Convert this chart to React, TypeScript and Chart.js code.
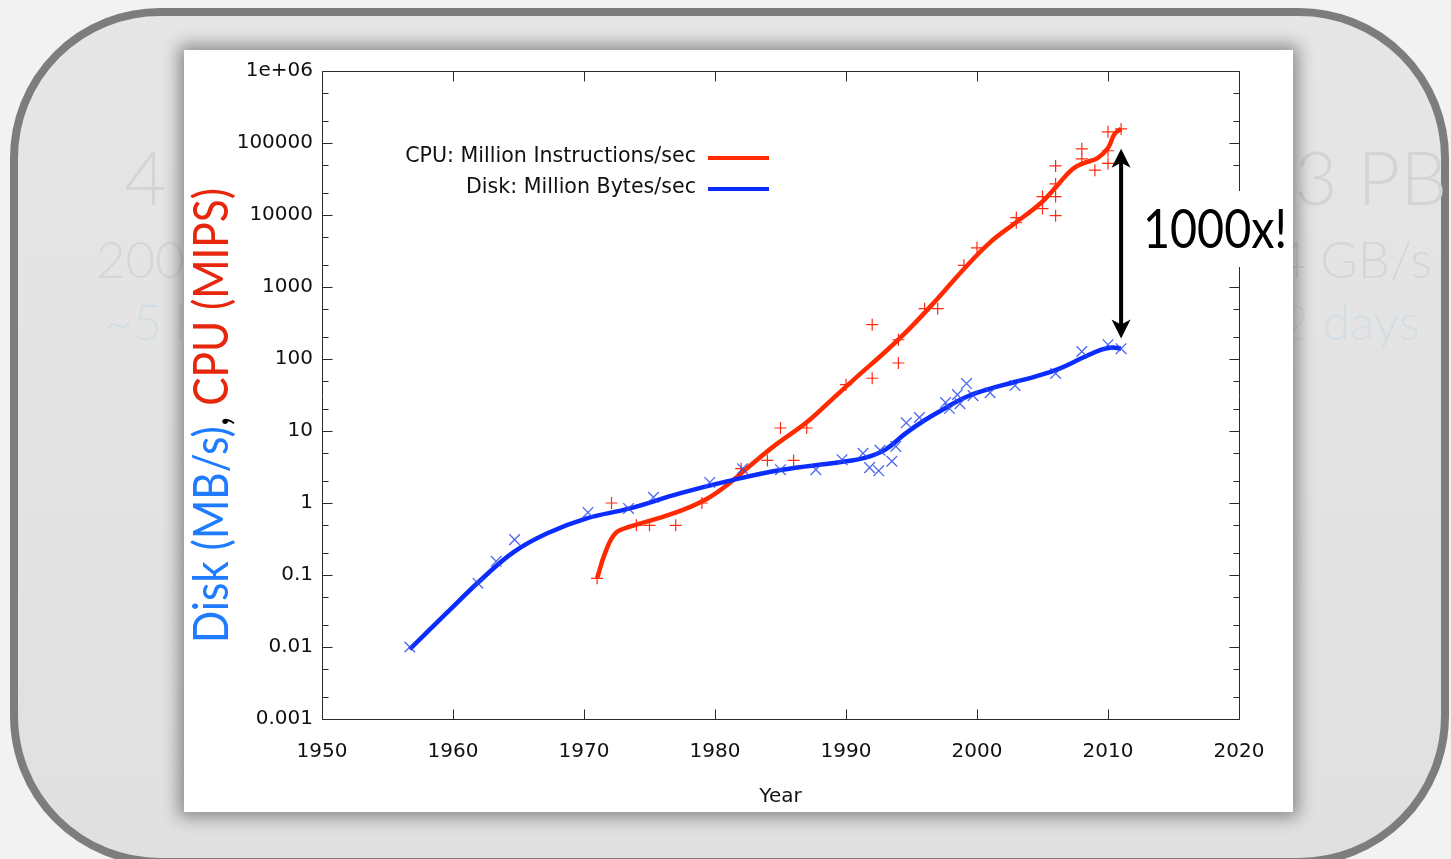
import React, { useEffect, useRef } from "react";
import { Chart, registerables } from "chart.js";

Chart.register(...registerables);

// ---------------- data ----------------
const cpuYears = [1971.0, 1972.1, 1974.0, 1975.0, 1977.0, 1979.0, 1982.0, 1984.0, 1985.0, 1986.0, 1987.0, 1990.0, 1992.0, 1992.0, 1994.0, 1994.0, 1996.0, 1997.0, 1999.0, 2000.0, 2003.0, 2003.0, 2005.0, 2005.0, 2006.0, 2006.0, 2006.0, 2006.0, 2008.0, 2008.0, 2009.0, 2010.0, 2010.0, 2010.0, 2011.0];
const cpuMips = [0.09, 1.0, 0.49, 0.49, 0.49, 1.0, 3.0, 3.9, 11, 3.9, 11, 44, 300, 54, 185, 88, 500, 500, 2000, 3500, 7800, 9200, 18000, 12300, 48000, 27000, 18000, 9800, 83000, 60000, 42000, 143000, 78000, 52000, 157000];

const diskYears = [1956.7, 1961.9, 1963.3, 1964.7, 1970.3, 1973.4, 1975.3, 1979.6, 1982.1, 1985.0, 1987.7, 1989.7, 1991.3, 1991.8, 1992.5, 1992.6, 1993.5, 1993.8, 1994.6, 1995.6, 1997.6, 1997.9, 1998.5, 1998.7, 1999.2, 1999.7, 2001.0, 2002.9, 2006.0, 2008.0, 2010.0, 2011.0];
const diskMBps = [0.01, 0.077, 0.155, 0.31, 0.74, 0.84, 1.2, 1.93, 3.0, 2.9, 2.9, 4.0, 4.9, 3.1, 2.8, 5.4, 3.8, 6.1, 13, 15.4, 24.8, 20.5, 32, 24, 45.6, 31, 34, 43, 63, 127, 158, 139];

// smoothed fit curves as drawn in the picture
const cpuFitYears = [1971.0, 1971.6, 1972.4, 1973.5, 1975.5, 1977.5, 1979.5, 1981.0, 1982.4, 1984.5, 1987.0, 1989.0, 1991.0, 1993.0, 1995.0, 1997.0, 1999.0, 2001.0, 2003.0, 2004.9, 2006.1, 2007.3, 2008.2, 2009.2, 2010.0, 2010.5, 2011.0];
const cpuFitValues = [0.09, 0.2, 0.38, 0.468, 0.603, 0.794, 1.175, 1.82, 2.99, 6.17, 13.2, 28.2, 60.3, 126, 282, 692, 1778, 4169, 7943, 14791, 25400, 43650, 52970, 61660, 85110, 133660, 157000];

const diskFitYears = [1956.7, 1959.5, 1962.1, 1964.6, 1967.2, 1970.2, 1973.5, 1977.3, 1980.9, 1985.0, 1989.5, 1991.5, 1993.0, 1994.5, 1996.0, 1997.5, 1999.0, 2000.5, 2002.8, 2004.5, 2006.2, 2008.1, 2009.5, 2010.3, 2011.0];
const diskFitValues = [0.0093, 0.0295, 0.0845, 0.2065, 0.38, 0.611, 0.841, 1.358, 2.0, 2.88, 3.69, 4.27, 5.5, 9.12, 14.1, 20.4, 28.8, 36.3, 47.5, 57.5, 72.4, 104.7, 134.9, 144.5, 139.3];

const xTickValues = [1950, 1960, 1970, 1980, 1990, 2000, 2010, 2020];
const xTickLabels = ["1950", "1960", "1970", "1980", "1990", "2000", "2010", "2020"];
const yTickValues = [0.001, 0.01, 0.1, 1, 10, 100, 1000, 10000, 100000, 1000000];
const yTickLabels = ["0.001", "0.01", "0.1", "1", "10", "100", "1000", "10000", "100000", "1e+06"];
const yMinorFactors = [2, 5];

const legendLabels = ["CPU: Million Instructions/sec", "Disk: Million Bytes/sec"];
const xTitle = "Year";
const yTitleParts = ["Disk (MB/s)", ", ", "CPU (MIPS)"];
const gapLabel = "1000x!";
const arrowYear = 2011;
const arrowTopValue = 83000;
const arrowBottomValue = 192;

const leftFaint = ["4 TB", "200 MB/s", "~5 hours"];
const rightFaint = ["3 PB", "4 GB/s", "2 days"];

// ---------------- styles ----------------
const RED_LINE = "#ff2a00";
const RED_MARK = "#ff2a10";
const BLUE_LINE = "#0b2cff";
const BLUE_MARK = "rgba(45,75,240,0.85)";
const BLUE_TEXT = "#1f7bff";
const RED_TEXT = "#e8260c";
const TICK_FONT = "DejaVu Sans";

const CARD = { left: 184, top: 50, width: 1109, height: 762 };

const framePlugin = {
  id: "frame",
  beforeDatasetsDraw(chart: any) {
    const { ctx, chartArea, scales } = chart;
    const L = Math.round(chartArea.left) + 0.5;
    const R = Math.round(chartArea.right) + 0.5;
    const T = Math.round(chartArea.top) + 0.5;
    const B = Math.round(chartArea.bottom) + 0.5;
    ctx.save();
    ctx.strokeStyle = "#2a2a2a";
    ctx.lineWidth = 1;
    ctx.beginPath();
    ctx.rect(L, T, R - L, B - T);
    ctx.stroke();
    ctx.beginPath();
    xTickValues.forEach((v) => {
      const px = Math.round(scales.x.getPixelForValue(v)) + 0.5;
      ctx.moveTo(px, B);
      ctx.lineTo(px, B - 10);
      ctx.moveTo(px, T);
      ctx.lineTo(px, T + 10);
    });
    yTickValues.forEach((v, i) => {
      const py = Math.round(scales.y.getPixelForValue(v)) + 0.5;
      ctx.moveTo(L, py);
      ctx.lineTo(L + 10, py);
      ctx.moveTo(R, py);
      ctx.lineTo(R - 10, py);
      if (i < yTickValues.length - 1) {
        yMinorFactors.forEach((f) => {
          const my = Math.round(scales.y.getPixelForValue(v * f)) + 0.5;
          ctx.moveTo(L, my);
          ctx.lineTo(L + 6, my);
          ctx.moveTo(R, my);
          ctx.lineTo(R - 6, my);
        });
      }
    });
    ctx.stroke();
    ctx.restore();
  },
};

const overlayPlugin = {
  id: "overlay",
  afterDraw(chart: any) {
    const { ctx, scales, chartArea } = chart;
    ctx.save();

    // legend
    ctx.font = `20.6px "${TICK_FONT}"`;
    ctx.textAlign = "right";
    ctx.textBaseline = "middle";
    ctx.fillStyle = "#111";
    const legendColors = [RED_LINE, BLUE_LINE];
    const legendY = [107, 138];
    legendLabels.forEach((t, i) => {
      ctx.fillText(t, 512, legendY[i]);
      ctx.strokeStyle = legendColors[i];
      ctx.lineWidth = 4;
      ctx.beginPath();
      ctx.moveTo(524, legendY[i] + 1);
      ctx.lineTo(585, legendY[i] + 1);
      ctx.stroke();
    });

    // x title
    ctx.font = `20px "${TICK_FONT}"`;
    ctx.textAlign = "center";
    ctx.fillStyle = "#111";
    ctx.fillText(xTitle, (chartArea.left + chartArea.right) / 2, 747);

    // y title, multicolour, rotated
    ctx.save();
    ctx.translate(44, 365.5);
    ctx.rotate(-Math.PI / 2);
    ctx.font = `48px Lato`;
    ctx.textAlign = "left";
    ctx.textBaseline = "alphabetic";
    const widths = yTitleParts.map((p) => ctx.measureText(p).width);
    const total = widths.reduce((a, b) => a + b, 0);
    ctx.scale(455 / total, 1);
    let cx = -total / 2;
    const partColors = [BLUE_TEXT, "#000", RED_TEXT];
    yTitleParts.forEach((p, i) => {
      ctx.fillStyle = partColors[i];
      ctx.fillText(p, cx, 0);
      cx += widths[i];
    });
    ctx.restore();

    // double arrow
    const ax = scales.x.getPixelForValue(arrowYear);
    const yt = scales.y.getPixelForValue(arrowTopValue);
    const yb = scales.y.getPixelForValue(arrowBottomValue);
    ctx.fillStyle = "#000";
    ctx.strokeStyle = "#000";
    ctx.lineWidth = 4;
    ctx.beginPath();
    ctx.moveTo(ax, yt + 12);
    ctx.lineTo(ax, yb - 12);
    ctx.stroke();
    const head = (tipY: number, dir: number) => {
      ctx.beginPath();
      ctx.moveTo(ax, tipY);
      ctx.lineTo(ax - 9.5, tipY + dir * 19);
      ctx.lineTo(ax, tipY + dir * 14);
      ctx.lineTo(ax + 9.5, tipY + dir * 19);
      ctx.closePath();
      ctx.fill();
    };
    head(yt, 1);
    head(yb, -1);

    // white box + label
    ctx.fillStyle = "#fff";
    ctx.fillRect(952, 141, 157, 76);
    ctx.save();
    ctx.font = `54px Lato`;
    ctx.textAlign = "left";
    ctx.textBaseline = "alphabetic";
    const gw = ctx.measureText(gapLabel).width;
    ctx.translate(959, 198);
    ctx.scale(144 / gw, 1);
    ctx.fillStyle = "#000";
    ctx.fillText(gapLabel, 0, 0);
    ctx.restore();

    ctx.restore();
  },
};

export default function App() {
  const ref = useRef<HTMLCanvasElement | null>(null);

  useEffect(() => {
    if (!ref.current) return;
    const chart = new Chart(ref.current, {
      type: "scatter",
      data: {
        datasets: [
          {
            label: "cpu-fit",
            data: cpuFitYears.map((x, i) => ({ x, y: cpuFitValues[i] })),
            showLine: true,
            borderColor: RED_LINE,
            borderWidth: 4.5,
            pointRadius: 0,
            tension: 0.4,
            order: 3,
          } as any,
          {
            label: "disk-fit",
            data: diskFitYears.map((x, i) => ({ x, y: diskFitValues[i] })),
            showLine: true,
            borderColor: BLUE_LINE,
            borderWidth: 4.5,
            pointRadius: 0,
            tension: 0.4,
            order: 2,
          } as any,
          {
            label: "cpu",
            data: cpuYears.map((x, i) => ({ x, y: cpuMips[i] })),
            pointStyle: "cross",
            pointRadius: 6,
            pointBorderColor: RED_MARK,
            pointBackgroundColor: RED_MARK,
            pointBorderWidth: 1.2,
            showLine: false,
            order: 1,
          } as any,
          {
            label: "disk",
            data: diskYears.map((x, i) => ({ x, y: diskMBps[i] })),
            pointStyle: "crossRot",
            pointRadius: 7.5,
            pointBorderColor: BLUE_MARK,
            pointBackgroundColor: BLUE_MARK,
            pointBorderWidth: 1.3,
            showLine: false,
            order: 0,
          } as any,
        ],
      },
      options: {
        animation: false,
        responsive: false,
        maintainAspectRatio: false,
        devicePixelRatio: 1,
        events: [],
        layout: { padding: { top: 20, right: 54, left: 0, bottom: 0 } },
        plugins: { legend: { display: false }, tooltip: { enabled: false } },
        scales: {
          x: {
            type: "linear",
            min: 1950,
            max: 2020,
            grid: { display: false, drawTicks: false },
            border: { display: false },
            afterBuildTicks: (s: any) => {
              s.ticks = xTickValues.map((v) => ({ value: v }));
            },
            afterFit: (s: any) => {
              s.height = 93;
            },
            ticks: {
              autoSkip: false,
              maxRotation: 0,
              padding: 21,
              color: "#111",
              font: { family: TICK_FONT, size: 20 },
              callback: (_v: any, i: number) => xTickLabels[i],
            },
          },
          y: {
            type: "logarithmic",
            min: 0.001,
            max: 1000000,
            grid: { display: false, drawTicks: false },
            border: { display: false },
            afterBuildTicks: (s: any) => {
              s.ticks = yTickValues.map((v) => ({ value: v }));
            },
            afterFit: (s: any) => {
              s.width = 138;
            },
            ticks: {
              autoSkip: false,
              padding: 9,
              color: "#111",
              font: { family: TICK_FONT, size: 20 },
              callback: (_v: any, i: number) => yTickLabels[i],
            },
          },
        },
      } as any,
      plugins: [framePlugin, overlayPlugin],
    });
    return () => chart.destroy();
  }, []);

  return (
    <div
      style={{
        position: "fixed",
        left: 0,
        top: 0,
        width: 1451,
        height: 859,
        background: "#f2f2f2",
        overflow: "hidden",
      }}
    >
      <div
        style={{
          position: "absolute",
          left: 10,
          top: 8,
          width: 1439,
          height: 858,
          boxSizing: "border-box",
          border: "8px solid #7d7d7d",
          borderRadius: 150,
          background: "linear-gradient(#e6e6e6, #e0e0e0)",
        }}
      />
      <svg
        width={1451}
        height={859}
        style={{ position: "absolute", left: 0, top: 0 }}
        fontFamily="Lato"
        fontWeight={300}
      >
        <text x={124} y={205} fontSize={74} fill="#d4d4d4">{leftFaint[0]}</text>
        <text x={96} y={278} fontSize={51} fill="#d6d6d6">{leftFaint[1]}</text>
        <text x={104} y={340} fontSize={50} fill="#d3dde4">{leftFaint[2]}</text>
        <text x={1447} y={205} fontSize={74} fill="#d4d4d4" textAnchor="end">{rightFaint[0]}</text>
        <text x={1432} y={278} fontSize={51} fill="#d6d6d6" textAnchor="end">{rightFaint[1]}</text>
        <text x={1420} y={340} fontSize={50} fill="#d3dde4" textAnchor="end">{rightFaint[2]}</text>
      </svg>
      <div
        style={{
          position: "absolute",
          left: CARD.left,
          top: CARD.top,
          width: CARD.width,
          height: CARD.height,
          background: "#fff",
          boxShadow: "0 0 16px 5px rgba(0,0,0,0.4)",
        }}
      >
        <canvas
          ref={ref}
          width={CARD.width}
          height={CARD.height}
          style={{ display: "block", width: CARD.width, height: CARD.height }}
        />
      </div>
    </div>
  );
}
